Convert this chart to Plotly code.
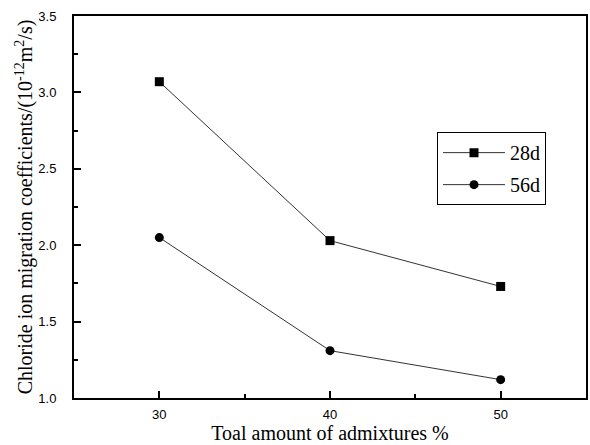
import plotly.graph_objects as go

admixture = [30, 40, 50]
d28 = [3.07, 2.03, 1.73]
d56 = [2.05, 1.31, 1.12]
series_names = ["28d", "56d"]

serif = "Liberation Serif, Times New Roman, serif"
sans = "Liberation Sans, Arial, sans-serif"

fig = go.Figure()
fig.add_trace(go.Scatter(x=admixture, y=d28, name=series_names[0], mode="lines+markers",
                         legendgroup="a",
                         line=dict(color="#333333", width=1),
                         marker=dict(symbol="square", size=9, color="black")))
fig.add_trace(go.Scatter(x=admixture, y=d56, name=series_names[1], mode="lines+markers",
                         legendgroup="b",
                         line=dict(color="#333333", width=1),
                         marker=dict(symbol="circle", size=9, color="black")))

fig.update_layout(
    width=590, height=445,
    margin=dict(l=74, r=4, t=16, b=47),
    paper_bgcolor="white", plot_bgcolor="white",
    showlegend=True,
    legend=dict(x=0.709, y=0.696, xanchor="left", yanchor="top",
                bordercolor="black", borderwidth=1, bgcolor="white",
                font=dict(family=serif, size=20, color="black"),
                itemwidth=62, tracegroupgap=3),
    xaxis=dict(range=[25, 55], tickvals=[30, 40, 50], ticks="inside", ticklen=7, tickwidth=1.5,
               tickcolor="black", showline=True, linecolor="black", linewidth=2, mirror=True,
               showgrid=False, zeroline=False, automargin=False, ticklabelstandoff=3,
               minor=dict(ticks="inside", dtick=5, tick0=25, ticklen=4, tickcolor="black", tickwidth=1.5),
               tickfont=dict(family=sans, size=13, color="black"),
               title=dict(text="Toal amount of admixtures %", standoff=4,
                          font=dict(family=serif, size=20, color="black"))),
    yaxis=dict(range=[1.0, 3.5], dtick=0.5, tickformat=".1f", ticks="inside", ticklen=7, tickwidth=1.5,
               tickcolor="black", showline=True, linecolor="black", linewidth=2, mirror=True,
               showgrid=False, zeroline=False, automargin=False, ticklabelstandoff=13,
               minor=dict(ticks="inside", dtick=0.25, ticklen=4, tickcolor="black", tickwidth=1.5),
               tickfont=dict(family=sans, size=13, color="black"),
               title=dict(text="Chloride ion migration coefficients/(10<sup>-12</sup>m<sup>2</sup>/s)", standoff=0,
                          font=dict(family=serif, size=20, color="black"))),
)

fig.write_html("out.html", config={"displayModeBar": False},
               post_script="document.body.style.margin='0';document.body.style.overflow='hidden';")
